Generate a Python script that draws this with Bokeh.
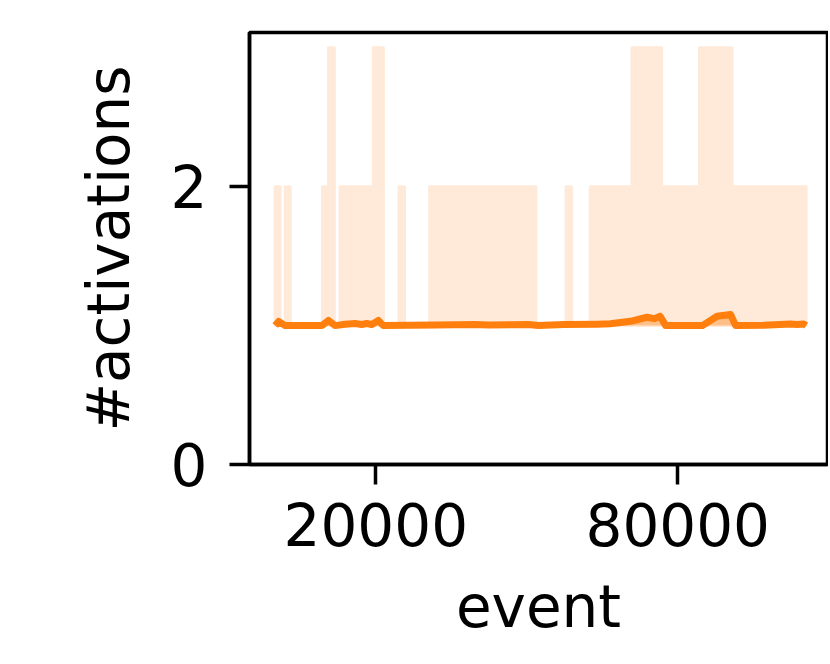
import numpy as np
from bokeh.plotting import figure
from bokeh.models import FixedTicker, Range1d
from bokeh.embed import file_html
from bokeh.resources import INLINE

# ---- data ----
# max #activations over runs, as steps: level band_max[i] on [band_edges[i], band_edges[i+1])
band_edges = [0, 1000, 2000, 3000, 9400, 10600, 11750, 12900, 19500, 21500, 24600,
              25700, 30700, 51800, 57800, 58900, 62600, 70900, 76800, 84300, 90800, 105500]
band_max = [2, 1, 2, 1, 2, 3, 1, 2, 3, 1, 2, 1, 2, 1, 2, 1, 2, 3, 2, 3, 2]
band_min = 1

# mean #activations
mean_event = [0, 700, 2000, 9300, 10600, 11900, 13900, 15900, 17200, 18200, 19200,
              20500, 21500, 31800, 39700, 42400, 50300, 52300, 57300, 64000, 66600,
              70600, 73900, 75300, 76500, 77600, 84900, 87800, 90500, 91500, 97100,
              102400, 103700, 105000, 105500]
mean_act = [1.0, 1.03, 1.0, 1.0, 1.037, 1.0, 1.01, 1.015, 1.008, 1.015, 1.008,
            1.037, 1.0, 1.005, 1.008, 1.004, 1.008, 1.0, 1.007, 1.01, 1.013,
            1.031, 1.06, 1.05, 1.067, 1.0, 1.0, 1.067, 1.08, 1.0, 1.002,
            1.012, 1.008, 1.012, 1.0]

x_ticks = [20000, 80000]
y_ticks = [0, 2]
x_label = "event"
y_label = "#activations"

ORANGE = "#ff7f0e"
FONT = "DejaVu Sans"

# ---- build band polygon from the step data ----
bx = [band_edges[0]]
by = [band_min]
for i, lvl in enumerate(band_max):
    bx += [band_edges[i], band_edges[i + 1]]
    by += [lvl, lvl]
bx += [band_edges[-1]]
by += [band_min]

p = figure(width=828, height=660, output_backend="svg", toolbar_location=None,
           x_range=Range1d(-5096, 109750), y_range=Range1d(0, 3.11),
           min_border_left=249, min_border_right=1, min_border_top=32,
           min_border_bottom=196)

p.patch(bx, by, fill_color="#ffead9", line_color="#ffead9", line_width=3,
        line_join="round")
p.varea(x=mean_event, y1=[band_min] * len(mean_event), y2=mean_act,
        fill_color="#ffbf88")
p.line(mean_event, mean_act, line_color=ORANGE, line_width=7, line_join="round")

p.xgrid.visible = False
p.ygrid.visible = False
p.outline_line_color = "black"
p.outline_line_width = 3.5
p.outline_line_alpha = 1.0
p.background_fill_color = "white"
p.border_fill_color = "white"

p.xaxis.ticker = FixedTicker(ticks=x_ticks)
p.yaxis.ticker = FixedTicker(ticks=y_ticks)
p.xaxis.axis_label = x_label
p.yaxis.axis_label = y_label

for ax in (p.xaxis, p.yaxis):
    ax.axis_line_width = 3.5
    ax.axis_line_color = "black"
    ax.major_tick_out = 20
    ax.major_tick_in = 0
    ax.major_tick_line_width = 3.5
    ax.major_tick_line_color = "black"
    ax.minor_tick_out = 0
    ax.minor_tick_in = 0
    ax.major_label_text_font = FONT
    ax.major_label_text_font_size = "58px"
    ax.major_label_text_color = "black"
    ax.axis_label_text_font = FONT
    ax.axis_label_text_font_size = "58px"
    ax.axis_label_text_font_style = "normal"
    ax.axis_label_text_color = "black"

p.xaxis.major_label_standoff = 18
p.yaxis.major_label_standoff = 22
p.xaxis.axis_label_standoff = 24
p.yaxis.axis_label_standoff = 25

open("out.html", "w").write(file_html(p, INLINE))
